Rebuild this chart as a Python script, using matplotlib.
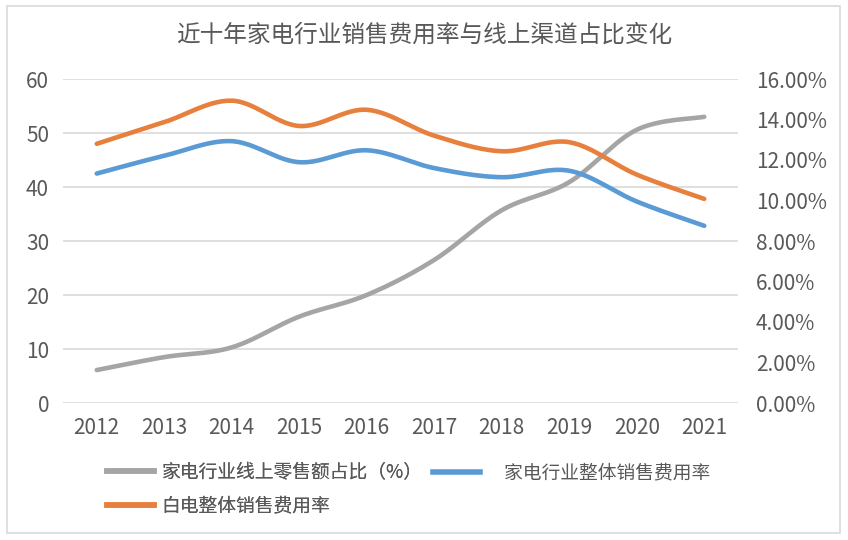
import numpy as np
import matplotlib
matplotlib.use('Agg')
import matplotlib.pyplot as plt
from matplotlib.patches import Rectangle
from matplotlib.lines import Line2D
from matplotlib.ticker import FuncFormatter

plt.rcParams['font.family'] = ['Noto Sans CJK SC', 'DejaVu Sans']

# 数据
years = ['2012', '2013', '2014', '2015', '2016', '2017', '2018', '2019', '2020', '2021']
online_share = [6.1, 8.5, 10.3, 16.0, 20.0, 26.5, 35.7, 40.9, 50.6, 53.0]          # 左轴
industry_rate = [11.33, 12.21, 12.93, 11.89, 12.48, 11.60, 11.15, 11.47, 9.95, 8.75]  # 右轴 %
white_rate = [12.80, 13.87, 14.93, 13.68, 14.48, 13.20, 12.43, 12.88, 11.28, 10.08]   # 右轴 %

label_online = '家电行业线上零售额占比（%）'
label_industry = '家电行业整体销售费用率'
label_white = '白电整体销售费用率'

c_gray = '#A5A5A5'
c_blue = '#5B9BD5'
c_orange = '#E8803D'
c_text = '#595959'


def suavizar(y, n=30):
    # curva suave tipo Excel (Catmull-Rom)
    y = np.asarray(y, dtype=float)
    x = np.arange(len(y), dtype=float)
    px = np.concatenate([[x[0]], x, [x[-1]]])
    py = np.concatenate([[y[0]], y, [y[-1]]])
    xs, ys = [], []
    t = np.linspace(0, 1, n)
    for i in range(1, len(px) - 2):
        p0, p1, p2, p3 = px[i - 1], px[i], px[i + 1], px[i + 2]
        q0, q1, q2, q3 = py[i - 1], py[i], py[i + 1], py[i + 2]
        bx = [p1, p1 + (p2 - p0) / 6, p2 - (p3 - p1) / 6, p2]
        by = [q1, q1 + (q2 - q0) / 6, q2 - (q3 - q1) / 6, q2]
        for arr, b in ((xs, bx), (ys, by)):
            arr.extend((1 - t) ** 3 * b[0] + 3 * (1 - t) ** 2 * t * b[1]
                       + 3 * (1 - t) * t ** 2 * b[2] + t ** 3 * b[3])
    return np.array(xs), np.array(ys)


fig = plt.figure(figsize=(8.48, 5.40), dpi=100)
fig.patches.append(Rectangle((7 / 848, 7 / 540), 833 / 848, 527 / 540,
                             transform=fig.transFigure, fill=False,
                             edgecolor='#D9D9D9', linewidth=1.2))

ax = fig.add_axes([63 / 848, 1 - 403 / 540, 675 / 848, 324 / 540])
ax2 = ax.twinx()

ax.set_ylim(0, 60)
ax.set_yticks(range(0, 61, 10))
ax2.set_ylim(0, 16)
ax2.set_yticks(range(0, 17, 2))
ax2.yaxis.set_major_formatter(FuncFormatter(lambda v, p: f'{v:.2f}%'))
ax.set_xlim(-0.5, len(years) - 0.5)
ax.set_xticks(range(len(years)))
ax.set_xticklabels(years)

ax.grid(axis='y', color='#D9D9D9', linewidth=1.2)
ax.set_axisbelow(True)
for a in (ax, ax2):
    for s in a.spines.values():
        s.set_visible(False)
    a.tick_params(length=0, labelsize=15, labelcolor=c_text)
ax.tick_params(axis='y', pad=10)
ax.tick_params(axis='x', pad=10)
ax2.tick_params(axis='y', pad=13)

xs, ys = suavizar(online_share)
ax.plot(xs, ys, color=c_gray, linewidth=3.3, solid_capstyle='round')
xs, ys = suavizar(industry_rate)
ax2.plot(xs, ys, color=c_blue, linewidth=3.3, solid_capstyle='round')
xs, ys = suavizar(white_rate)
ax2.plot(xs, ys, color=c_orange, linewidth=3.3, solid_capstyle='round')

fig.text(0.5, 1 - 35 / 540, '近十年家电行业销售费用率与线上渠道占比变化',
         ha='center', va='center', fontsize=17, color=c_text)

leg_kw = dict(loc='center left', frameon=False, fontsize=13.5, labelcolor=c_text,
              handlelength=2.5, handletextpad=0.4, labelspacing=0.65,
              borderpad=0, borderaxespad=0)
leg1 = fig.legend([Line2D([], [], color=c_gray, lw=4), Line2D([], [], color=c_orange, lw=4)],
                  [label_online, label_white],
                  bbox_to_anchor=(107 / 848, 1 - 489 / 540), **leg_kw)
fig.legend([Line2D([], [], color=c_blue, lw=4)], ['    ' + label_industry],
           bbox_to_anchor=(433 / 848, 1 - 473 / 540), **leg_kw)
fig.add_artist(leg1)

fig.savefig('out.png', dpi=100)
